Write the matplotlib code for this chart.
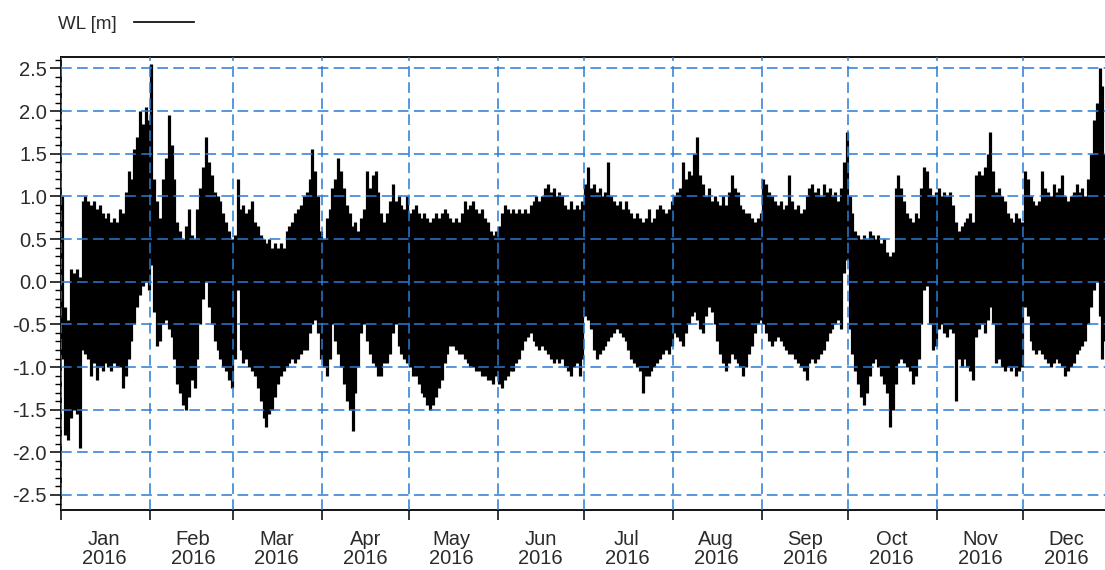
import numpy as np
import matplotlib
matplotlib.use("Agg")
import matplotlib.pyplot as plt
import matplotlib.dates as mdates
from matplotlib.lines import Line2D
from matplotlib.ticker import MultipleLocator

# Daily high / low water level [m], 1 Jan 2016 .. 31 Dec 2016
daily_high = [
    1.0, -0.3, -0.45, 0.15, 0.1, 0.15, 0.05, 0.95, 1.0, 0.95,
    0.9, 0.95, 0.85, 0.9, 0.8, 0.75, 0.8, 0.7, 0.75, 0.7,
    0.85, 0.8, 1.05, 1.3, 1.2, 1.55, 1.7, 2.0, 1.85, 2.05,
    1.9, 2.55, 1.2, 0.95, 0.75, 1.2, 1.45, 1.95, 1.6, 1.2,
    0.7, 0.6, 0.5, 0.65, 0.85, 0.55, 0.5, 0.85, 1.1, 1.35,
    1.7, 1.4, 1.25, 1.05, 1.0, 0.95, 0.8, 0.7, 0.6, 0.5,
    0.55, 1.2, 0.85, 0.9, 0.8, 0.85, 0.95, 0.7, 0.65, 0.55,
    0.5, 0.45, 0.5, 0.4, 0.45, 0.4, 0.45, 0.4, 0.6, 0.65,
    0.7, 0.8, 0.85, 0.9, 1.0, 1.05, 1.2, 1.55, 1.3, 1.0,
    0.6, 0.5, 0.75, 0.85, 1.1, 1.2, 1.45, 1.3, 1.1, 0.9,
    0.8, 0.65, 0.7, 0.6, 0.75, 0.85, 1.3, 1.1, 1.25, 1.3,
    1.05, 0.8, 0.7, 0.8, 0.95, 1.15, 0.95, 1.0, 0.9, 0.85,
    1.0, 0.8, 0.85, 0.9, 0.8, 0.75, 0.8, 0.75, 0.7, 0.75,
    0.8, 0.75, 0.8, 0.85, 0.8, 0.75, 0.7, 0.75, 0.7, 0.8,
    0.95, 0.85, 0.9, 0.95, 0.85, 0.8, 0.85, 0.75, 0.7, 0.6,
    0.55, 0.6, 0.65, 0.8, 0.9, 0.85, 0.8, 0.85, 0.8, 0.85,
    0.8, 0.85, 0.8, 0.9, 0.95, 1.0, 0.95, 1.0, 1.1, 1.15,
    1.05, 1.1, 1.0, 1.05, 1.0, 0.9, 0.85, 0.95, 0.85, 0.9,
    0.85, 0.95, 1.15, 1.35, 1.1, 1.15, 1.05, 1.1, 1.0, 1.05,
    1.4, 1.0, 0.95, 0.9, 0.95, 0.85, 0.95, 0.85, 0.8, 0.75,
    0.8, 0.75, 0.7, 0.75, 0.85, 0.7, 0.75, 0.85, 0.9, 0.85,
    0.8, 0.85, 0.95, 1.0, 1.05, 1.1, 1.4, 1.2, 1.3, 1.25,
    1.5, 1.7, 1.25, 1.15, 1.0, 1.1, 0.95, 1.0, 0.95, 0.9,
    1.0, 0.9, 1.05, 1.25, 1.1, 1.05, 0.9, 0.85, 0.8, 0.8,
    0.75, 0.7, 0.75, 0.8, 1.2, 1.15, 1.05, 1.0, 0.95, 0.9,
    0.95, 0.85, 0.9, 1.25, 0.95, 0.85, 0.9, 0.8, 0.85, 1.0,
    1.1, 1.15, 1.05, 1.1, 1.0, 1.15, 1.05, 1.1, 1.0, 1.05,
    0.95, 1.1, 1.4, 1.75, 1.0, 0.8, 0.6, 0.55, 0.5, 0.55,
    0.5, 0.6, 0.55, 0.5, 0.55, 0.45, 0.5, 0.35, 0.3, 0.35,
    1.1, 1.25, 1.1, 0.95, 0.8, 0.75, 0.7, 0.8, 0.75, 1.1,
    1.35, 1.3, 1.1, 1.0, 1.05, 1.1, 1.0, 1.05, 1.0, 1.05,
    0.9, 0.7, 0.6, 0.65, 0.7, 0.75, 0.8, 0.7, 1.25, 1.3,
    1.25, 1.35, 1.5, 1.75, 1.3, 1.05, 1.1, 1.0, 0.95, 0.8,
    0.75, 0.7, 0.8, 0.75, 0.7, 1.3, 1.2, 1.0, 0.95, 0.9,
    0.95, 1.3, 1.1, 1.05, 1.0, 1.15, 1.05, 1.1, 1.25, 1.0,
    0.95, 1.0, 1.05, 1.15, 1.05, 1.1, 1.0, 1.2, 1.5, 1.9,
    2.1, 2.5, 2.3, 1.5, 1.0, 0.8,
]

daily_low = [
    -0.9, -1.8, -1.85, -1.6, -1.5, -1.55, -1.95, -0.8, -0.85, -0.9,
    -1.1, -0.95, -1.15, -1.0, -1.05, -0.95, -1.0, -1.05, -0.95, -1.0,
    -1.0, -1.25, -1.1, -0.9, -0.7, -0.5, -0.3, -0.15, -0.05, 0.0,
    -0.1, 0.2, -0.35, -0.75, -0.7, -0.5, -0.45, -0.55, -0.65, -0.9,
    -1.2, -1.3, -1.45, -1.5, -1.35, -1.15, -1.25, -0.9, -0.5, -0.2,
    0.0, -0.3, -0.5, -0.7, -0.8, -0.9, -1.0, -1.05, -1.15, -1.25,
    -0.9, -0.1, -0.8, -0.95, -0.9, -1.0, -1.05, -1.1, -1.25, -1.4,
    -1.6, -1.7, -1.55, -1.5, -1.35, -1.2, -1.1, -1.05, -1.0, -0.95,
    -0.9, -0.95, -0.9, -0.85, -0.8, -0.8, -0.6, -0.5, -0.45, -0.6,
    -0.9, -1.0, -1.1, -0.9, -0.5, -0.7, -0.85, -1.0, -1.2, -1.4,
    -1.5, -1.75, -1.3, -1.0, -0.6, -0.5, -0.7, -0.85, -0.95, -1.0,
    -1.1, -1.1, -0.95, -0.95, -0.85, -0.6, -0.5, -0.75, -0.85, -0.9,
    -0.95, -1.0, -1.1, -1.1, -1.2, -1.3, -1.35, -1.45, -1.5, -1.45,
    -1.35, -1.25, -1.15, -0.95, -0.85, -0.75, -0.75, -0.8, -0.85, -0.85,
    -0.9, -0.95, -1.0, -1.0, -1.05, -1.05, -1.1, -1.1, -1.15, -1.15,
    -1.2, -1.1, -1.2, -1.25, -1.15, -1.1, -1.05, -1.05, -0.95, -0.9,
    -0.8, -0.7, -0.65, -0.6, -0.7, -0.75, -0.8, -0.75, -0.8, -0.85,
    -0.9, -0.95, -0.9, -0.95, -0.9, -1.0, -1.05, -1.1, -1.0, -0.95,
    -1.1, -0.9, -0.4, -0.45, -0.55, -0.8, -0.9, -0.85, -0.8, -0.75,
    -0.7, -0.65, -0.6, -0.55, -0.6, -0.65, -0.7, -0.8, -0.9, -0.95,
    -1.0, -1.05, -1.3, -1.1, -1.1, -1.05, -1.0, -0.95, -0.9, -0.85,
    -0.8, -0.85, -0.75, -0.6, -0.65, -0.7, -0.75, -0.6, -0.5, -0.4,
    -0.35, -0.45, -0.55, -0.6, -0.4, -0.3, -0.35, -0.5, -0.7, -0.85,
    -0.95, -1.05, -0.95, -0.85, -0.9, -0.95, -1.0, -1.1, -1.0, -0.85,
    -0.75, -0.6, -0.5, -0.45, -0.5, -0.6, -0.7, -0.75, -0.7, -0.65,
    -0.7, -0.75, -0.8, -0.85, -0.85, -0.9, -0.95, -1.0, -1.05, -1.15,
    -0.95, -0.9, -0.95, -0.9, -0.85, -0.8, -0.7, -0.6, -0.55, -0.5,
    -0.45, -0.55, 0.1, 0.25, -0.55, -0.85, -1.05, -1.2, -1.35, -1.45,
    -1.3, -1.1, -0.95, -0.9, -1.0, -1.1, -1.2, -1.3, -1.7, -1.5,
    -1.2, -0.95, -0.9, -0.95, -1.0, -1.05, -1.2, -1.1, -0.9, -0.5,
    -0.1, -0.05, -0.5, -0.8, -0.75, -0.55, -0.5, -0.6, -0.65, -0.55,
    -0.6, -1.4, -0.9, -1.0, -0.9, -1.0, -1.05, -1.15, -0.65, -0.55,
    -0.5, -0.6, -0.45, -0.3, -0.5, -0.95, -0.9, -1.0, -1.05, -1.0,
    -1.05, -1.0, -1.1, -1.05, -1.0, -0.3, -0.4, -0.7, -0.8, -0.85,
    -0.8, -0.85, -0.9, -0.95, -1.0, -0.95, -0.9, -0.95, -1.0, -1.1,
    -1.05, -1.0, -0.95, -0.85, -0.8, -0.75, -0.7, -0.5, -0.3, -0.1,
    0.0, -0.4, -0.9, -0.7, -0.8, -0.9,
]

year_start = np.datetime64("2016-01-01")
year_end = np.datetime64("2017-01-01")
series_label = "WL [m]"

plt.rcParams["font.family"] = ["Liberation Sans", "DejaVu Sans"]
TEXT = "#2b2b2b"
GRID = "#2a7bd4"

fig = plt.figure(figsize=(11.05, 5.70), dpi=100)
ax = fig.add_axes([61 / 1105, 1 - 509.5 / 570, 1051.5 / 1105, 453 / 570])

day_dates = year_start + np.arange(len(daily_high)).astype("timedelta64[D]")
x = mdates.date2num(day_dates) + 0.5
ax.vlines(x, daily_low, daily_high, colors="black", linewidth=2.3,
          capstyle="butt", zorder=1)

ax.set_xlim(mdates.date2num(year_start), mdates.date2num(year_end))
ax.set_ylim(-2.67, 2.64)

# y axis
ax.yaxis.set_major_locator(MultipleLocator(0.5))
ax.yaxis.set_minor_locator(MultipleLocator(0.1))
ax.yaxis.set_major_formatter(plt.FuncFormatter(lambda v, p: f"{v:.1f}"))
ax.tick_params(axis="y", which="major", direction="out", length=8, width=1.1,
               pad=2, labelsize=14.5, labelcolor=TEXT)
ax.tick_params(axis="y", which="minor", direction="out", length=4, width=1.0)

# x axis: ticks at month starts, labels centred in each month
ax.xaxis.set_major_locator(mdates.MonthLocator())
ax.xaxis.set_major_formatter(plt.NullFormatter())
ax.xaxis.set_minor_locator(mdates.MonthLocator(bymonthday=16))
ax.xaxis.set_minor_formatter(mdates.DateFormatter("%b\n%Y"))
ax.tick_params(axis="x", which="major", direction="out", length=7, width=1.1)
ax.tick_params(axis="x", which="minor", length=0, pad=15, labelsize=14.5,
               labelcolor=TEXT)
for lbl in ax.xaxis.get_minorticklabels():
    lbl.set_linespacing(1.0)

ax.grid(True, which="major", axis="both", color=GRID, linewidth=1.1,
        linestyle=(0, (7, 3.5)))
ax.set_axisbelow(False)

for side in ("left", "bottom", "top"):
    ax.spines[side].set_linewidth(1.3)
ax.spines["right"].set_visible(False)

handle = Line2D([], [], color="black", linewidth=1.2)
fig.legend([handle], [series_label], loc="center left",
           bbox_to_anchor=(58 / 1105, 1 - 24 / 570), frameon=False,
           markerfirst=False, handlelength=3.2, handletextpad=0.9,
           borderpad=0, borderaxespad=0, fontsize=13.5, labelcolor=TEXT)

fig.savefig("out.png", dpi=100)
